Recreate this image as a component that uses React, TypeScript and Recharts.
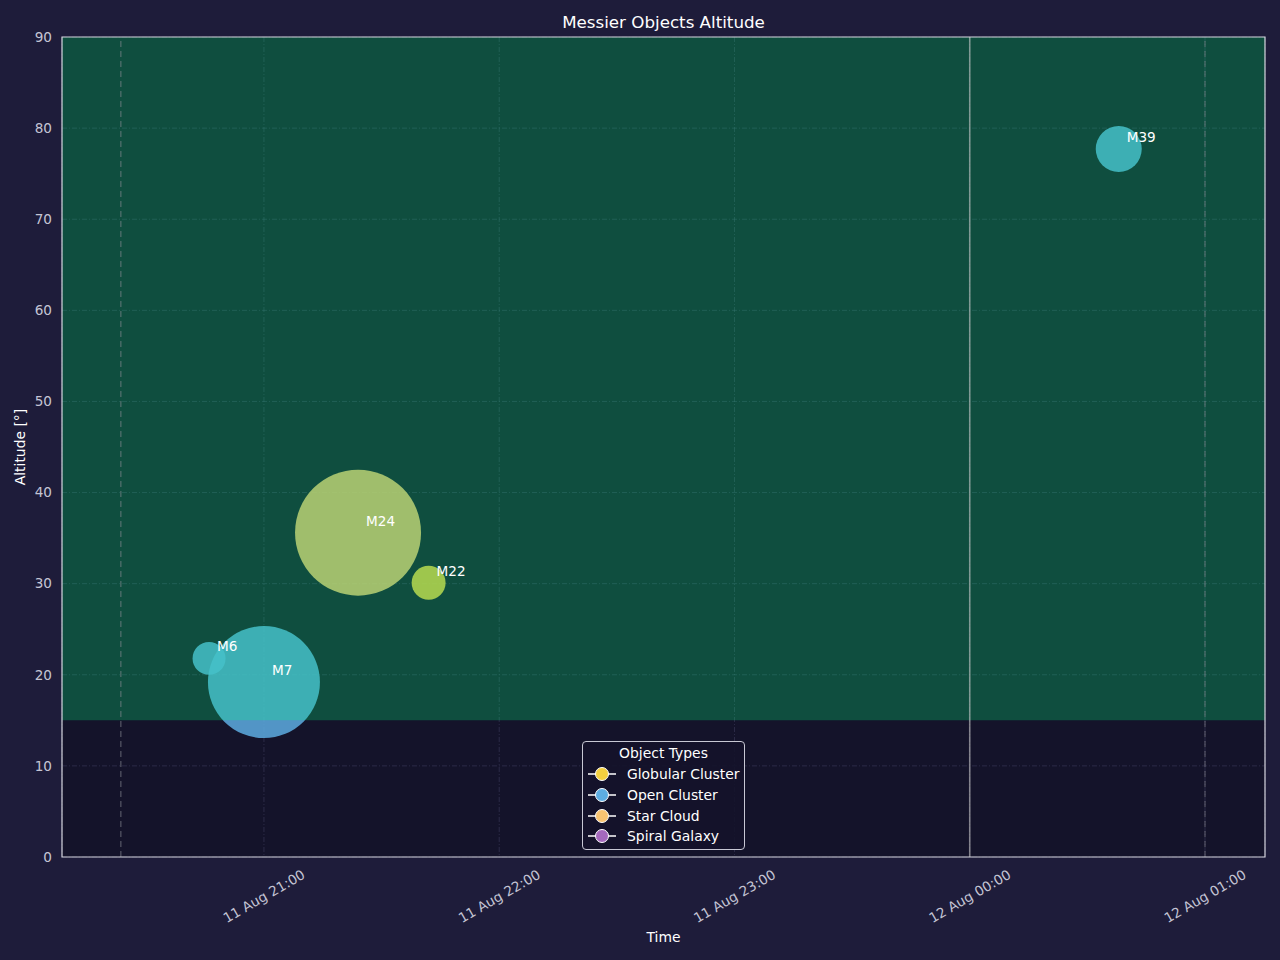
import React from "react"
import {
  ScatterChart,
  Scatter,
  XAxis,
  YAxis,
  ZAxis,
  CartesianGrid,
  ReferenceArea,
  ReferenceLine,
  LabelList,
} from "recharts"

// objects shown on the chart
const objectNames = ["M6", "M7", "M24", "M22", "M39"]
const objectTypes = ["Open Cluster", "Open Cluster", "Star Cloud", "Globular Cluster", "Open Cluster"]
const objectTimes = ["20:46", "21:00", "21:24", "21:42", "00:38"]
const objectAltitudes = [21.8, 19.2, 35.6, 30.1, 77.7]
const objectSizes = [272, 3136, 3969, 289, 529]

const typeNames = ["Globular Cluster", "Open Cluster", "Star Cloud", "Spiral Galaxy"]
const typeColors = ["#f4d03f", "#5dade2", "#f8c471", "#a569bd"]

const xTickTimes = ["21:00", "22:00", "23:00", "00:00", "01:00"]
const xTickLabels = ["11 Aug 21:00", "11 Aug 22:00", "11 Aug 23:00", "12 Aug 00:00", "12 Aug 01:00"]
const yTicks = [0, 10, 20, 30, 40, 50, 60, 70, 80, 90]

const timeWindow = ["20:08:30", "01:15:18"]
const twilightTimes = ["20:23:30", "01:00"]
const midnightTime = "00:00"
const minAltitude = 15

const FONT = "'DejaVu Sans', sans-serif"
const PAGE_BG = "#1e1c3a"
const PLOT_BG = "#14132a"
const TICK_COLOR = "#c4c4d4"

// evening hours, past midnight counts as 24+
function toHours(t: string) {
  const [h, m, s = 0] = t.split(":").map(Number)
  const v = h + m / 60 + s / 3600
  return h < 12 ? v + 24 : v
}

const rows = objectNames.map((name, i) => ({
  name,
  type: objectTypes[i],
  time: toHours(objectTimes[i]),
  alt: objectAltitudes[i],
  size: objectSizes[i],
}))

const TimeTick = (props: any) => {
  const { x, y, index } = props
  const cy = y + 31
  return (
    <text
      x={x}
      y={cy}
      textAnchor="middle"
      dominantBaseline="central"
      fill={TICK_COLOR}
      fontSize={13.6}
      fontFamily={FONT}
      transform={`rotate(-30, ${x}, ${cy})`}
    >
      {xTickLabels[index]}
    </text>
  )
}

const NameLabel = (props: any) => {
  const vb = props.viewBox || props
  const cx = vb.x + vb.width / 2
  const cy = vb.y + vb.height / 2
  return (
    <text x={cx + 8} y={cy - 12} dominantBaseline="central" fill="#ffffff" fontSize={13.6} fontFamily={FONT}>
      {props.value}
    </text>
  )
}

const Bubble = (color: string) => (p: any) => (
  <circle cx={p.cx} cy={p.cy} r={p.width / 2} fill={color} fillOpacity={0.85} />
)

function LegendBox() {
  return (
    <div
      style={{
        position: "absolute",
        left: 582,
        top: 741,
        width: 161,
        height: 107,
        border: "1px solid #c8c8d4",
        borderRadius: 4,
        background: "rgba(20,19,42,0.9)",
        color: "#ffffff",
        fontSize: 13.9,
        fontFamily: FONT,
      }}
    >
      <div style={{ textAlign: "center", height: 22, lineHeight: "22px" }}>Object Types</div>
      {typeNames.map((n, i) => (
        <div key={n} style={{ display: "flex", alignItems: "center", height: 20.7 }}>
          <svg width={40} height={16} style={{ flex: "none" }}>
            <line x1={5} y1={8} x2={33} y2={8} stroke="#ffffff" strokeWidth={1.5} />
            <circle cx={19} cy={8} r={6.5} fill={typeColors[i]} stroke="#ffffff" strokeWidth={1} />
          </svg>
          <span style={{ marginLeft: 4 }}>{n}</span>
        </div>
      ))}
    </div>
  )
}

export default function App() {
  const xDomain = timeWindow.map(toHours)
  return (
    <div
      style={{
        position: "absolute",
        left: 0,
        top: 0,
        width: 1280,
        height: 960,
        background: PAGE_BG,
        fontFamily: FONT,
        overflow: "hidden",
      }}
    >
      <ScatterChart width={1280} height={960} margin={{ top: 37, right: 15, bottom: 73, left: 12 }}>
        <CartesianGrid
          fill={PLOT_BG}
          fillOpacity={1}
          stroke="#4a4a6c"
          strokeOpacity={0.45}
          strokeDasharray="5 2 1 2"
        />
        <XAxis
          type="number"
          dataKey="time"
          domain={xDomain}
          ticks={xTickTimes.map(toHours)}
          allowDataOverflow
          axisLine={false}
          tickLine={false}
          height={30}
          tick={<TimeTick />}
        />
        <YAxis
          type="number"
          dataKey="alt"
          domain={[0, 90]}
          ticks={yTicks}
          width={50}
          axisLine={false}
          tickLine={false}
          tickMargin={4}
          tick={{ fill: TICK_COLOR, fontSize: 13.6, fontFamily: FONT }}
        />
        <ZAxis type="number" dataKey="size" domain={[0, 4000]} range={[0, 4000 * Math.PI]} />
        {typeNames.map((t, i) => (
          <Scatter
            key={t}
            name={t}
            data={rows.filter((r) => r.type === t)}
            fill={typeColors[i]}
            shape={Bubble(typeColors[i])}
            isAnimationActive={false}
          >
            <LabelList dataKey="name" content={<NameLabel />} />
          </Scatter>
        ))}
        <ReferenceArea
          x1={xDomain[0]}
          x2={xDomain[1]}
          y1={minAltitude}
          y2={90}
          fill="#00ff7f"
          fillOpacity={0.25}
          stroke="none"
          zIndex={650}
        />
        {twilightTimes.map((t) => (
          <ReferenceLine
            key={t}
            x={toHours(t)}
            stroke="#8c8c96"
            strokeOpacity={0.45}
            strokeWidth={1.5}
            strokeDasharray="6 4"
            zIndex={700}
          />
        ))}
        <ReferenceLine x={toHours(midnightTime)} stroke="#c8c8c8" strokeOpacity={0.6} strokeWidth={1.6} zIndex={700} />
        <ReferenceArea
          x1={xDomain[0]}
          x2={xDomain[1]}
          y1={0}
          y2={90}
          fill="none"
          fillOpacity={0}
          stroke="#d4d4dc"
          strokeWidth={1.2}
          zIndex={700}
        />
      </ScatterChart>
      <div
        style={{
          position: "absolute",
          left: 62,
          width: 1203,
          top: 12,
          lineHeight: "20px",
          textAlign: "center",
          color: "#ffffff",
          fontSize: 16.7,
        }}
      >
        Messier Objects Altitude
      </div>
      <div
        style={{
          position: "absolute",
          left: 62,
          width: 1203,
          top: 928,
          lineHeight: "18px",
          textAlign: "center",
          color: "#ffffff",
          fontSize: 13.9,
        }}
      >
        Time
      </div>
      <div
        style={{
          position: "absolute",
          left: 20 - 60,
          top: 447 - 9,
          width: 120,
          lineHeight: "18px",
          textAlign: "center",
          color: "#ffffff",
          fontSize: 13.9,
          transform: "rotate(-90deg)",
        }}
      >
        Altitude [°]
      </div>
      <LegendBox />
    </div>
  )
}
